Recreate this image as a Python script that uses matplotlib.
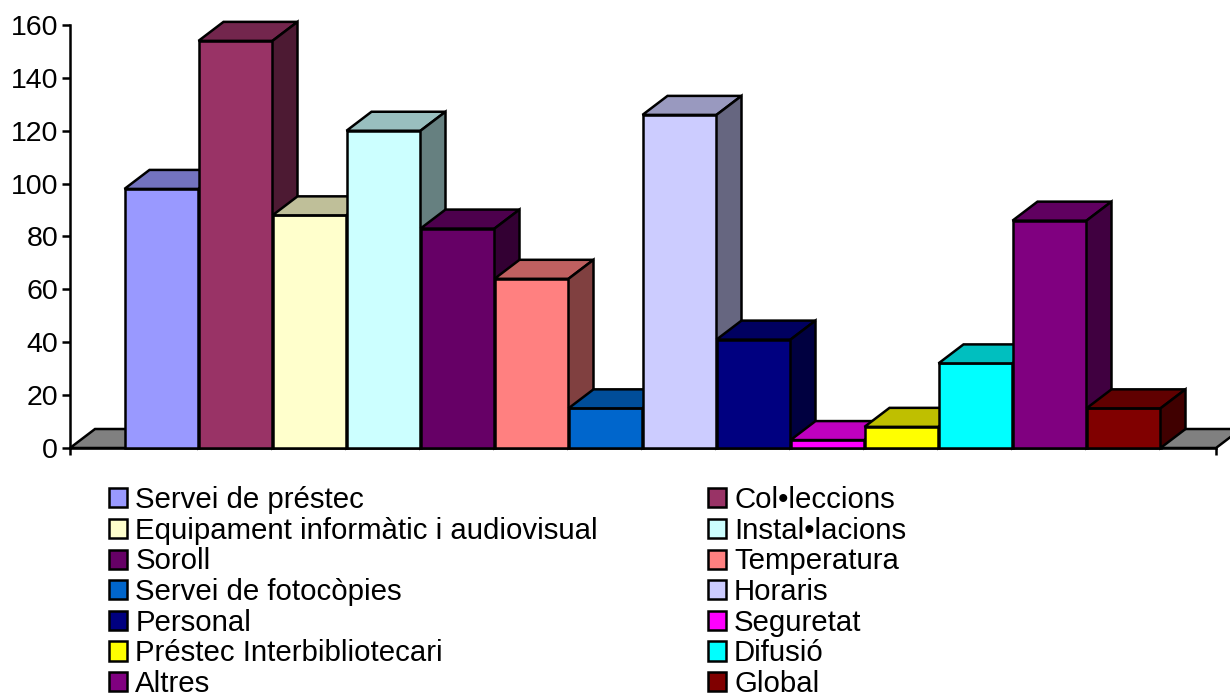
import matplotlib
matplotlib.use("Agg")
import matplotlib.pyplot as plt
from matplotlib.patches import Polygon, Patch

plt.rcParams['font.family'] = ['Liberation Sans', 'DejaVu Sans']

labels = ["Servei de préstec", "Col•leccions", "Equipament informàtic i audiovisual",
          "Instal•lacions", "Soroll", "Temperatura", "Servei de fotocòpies", "Horaris",
          "Personal", "Seguretat", "Préstec Interbibliotecari", "Difusió", "Altres", "Global"]
values = [98, 154, 88, 120, 83, 64, 15, 126, 41, 3, 8, 32, 86, 15]
colors = ["#9999FF", "#993366", "#FFFFCC", "#CCFFFF", "#660066", "#FF8080", "#0066CC",
          "#CCCCFF", "#000080", "#FF00FF", "#FFFF00", "#00FFFF", "#800080", "#800000"]
yticks = [0, 20, 40, 60, 80, 100, 120, 140, 160]

W, H = 1230, 693
LEFT, RIGHT, TOP, BOTTOM = 70, 1216, 25, 448
BAR_W = 74
PAD = 54.5
UNIT = (BOTTOM - TOP) / 160
DX = 25 / BAR_W      # 3d depth in data units
DY = 19 / UNIT
LW = 1.8


def shade(c, f):
    r, g, b = matplotlib.colors.to_rgb(c)
    return (r * f, g * f, b * f)


fig = plt.figure(figsize=(W / 100, H / 100), dpi=100)
ax = fig.add_axes([LEFT / W, 1 - BOTTOM / H, (RIGHT - LEFT) / W, (BOTTOM - TOP) / H])
ax.set_xlim(-0.5 - PAD / BAR_W, -0.5 + (RIGHT - LEFT - PAD) / BAR_W)
ax.set_ylim(0, 160)

# floor
x0, x1 = ax.get_xlim()
ax.add_patch(Polygon([(x0, 0), (x1, 0), (x1 + DX, DY), (x0 + DX, DY)], closed=True,
                     fc="#808080", ec="black", lw=LW, clip_on=False, zorder=1))

# left to right so every bar covers the side of the previous one
for i, (v, c) in enumerate(zip(values, colors)):
    z = 3 + i
    l, r = i - 0.5, i + 0.5
    ax.bar(i, v, width=1, color=c, edgecolor="black", linewidth=LW, zorder=z, clip_on=False)
    ax.add_patch(Polygon([(l, v), (r, v), (r + DX, v + DY), (l + DX, v + DY)], closed=True,
                         fc=shade(c, 0.75), ec="black", lw=LW, clip_on=False, zorder=z))
    ax.add_patch(Polygon([(r, 0), (r + DX, DY), (r + DX, v + DY), (r, v)], closed=True,
                         fc=shade(c, 0.5), ec="black", lw=LW, clip_on=False, zorder=z))

ax.spines["top"].set_visible(False)
ax.spines["right"].set_visible(False)
ax.spines["left"].set_linewidth(LW)
ax.spines["bottom"].set_linewidth(LW)
ax.set_yticks(yticks)
ax.set_xticks([x0, x1])
ax.set_xticklabels([])
ax.tick_params(axis="y", length=6, width=LW, labelsize=20.5, pad=2.5)
ax.tick_params(axis="x", length=5, width=LW)

# legend reads row by row, matplotlib fills column by column
handles = [Patch(fc=c, ec="black", lw=LW, label=t) for t, c in zip(labels, colors)]
order = handles[0::2] + handles[1::2]
fig.legend(handles=order, ncol=2, loc="upper left", bbox_to_anchor=(0.0885, 0.2985),
           frameon=False, fontsize=21.2, handlelength=0.62, handleheight=0.62,
           handletextpad=0.28, columnspacing=3.72, labelspacing=0.09,
           borderpad=0, borderaxespad=0)

fig.savefig("out.png", dpi=100)
